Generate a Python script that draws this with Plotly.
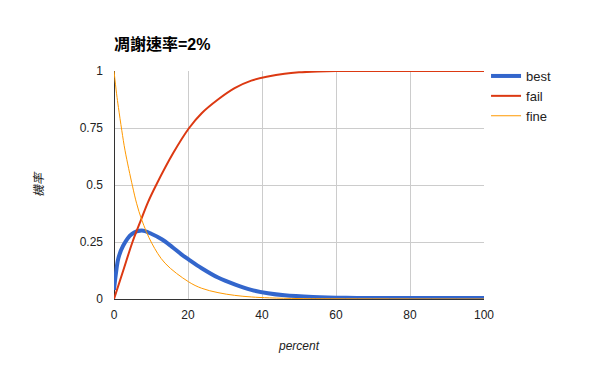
import plotly.graph_objects as go

# ---- data ----
best_x = [0, 0.5, 1.2, 2.5, 4.8, 7.5, 10.2, 12.9, 15.6, 18.3, 20.3, 23.7, 28.1,
          32.6, 37.1, 41.6, 46.1, 53.8, 62.8, 70, 80, 90, 100]
best_y = [0.04, 0.11, 0.18, 0.235, 0.285, 0.3, 0.285, 0.262, 0.23, 0.195, 0.172,
          0.135, 0.094, 0.064, 0.04, 0.025, 0.016, 0.009, 0.005, 0.004,
          0.004, 0.004, 0.004]

fail_x = [0, 2.5, 5, 7.3, 9.2, 11.4, 16, 20.3, 23.7, 28.1, 32.6, 37.1,
          41.6, 46.1, 50, 55, 60, 100]
fail_y = [0, 0.125, 0.25, 0.347, 0.425, 0.5, 0.64, 0.75, 0.815, 0.875,
          0.925, 0.958, 0.976, 0.988, 0.994, 0.998, 1.0, 1.0]

fine_x = [0, 0.7, 1.2, 2.1, 3.0, 5.0, 6.1, 7.5, 10.2, 13.8, 20.1,
          23.7, 28.1, 32.6, 37.1, 42, 50, 60, 100]
fine_y = [1.0, 0.9, 0.84, 0.74, 0.65, 0.495, 0.42, 0.347, 0.245, 0.157,
          0.076, 0.047, 0.028, 0.016, 0.009, 0.005, 0.002, 0.001, 0]

title_text = "凋謝速率=2%"
x_title = "percent"
y_title = "機率"
y_ticks = [0, 0.25, 0.5, 0.75, 1]
y_ticktext = ["0", "0.25", "0.5", "0.75", "1"]
x_ticks = [0, 20, 40, 60, 80, 100]

font_family = "Liberation Sans, Arial, Noto Sans CJK TC, sans-serif"

# page body has an 8px default margin, so the figure is 590x361
W, H = 590, 361
L, T = 106, 63
PW, PH = 370, 228

fig = go.Figure()
fig.add_trace(go.Scatter(x=best_x, y=best_y, name="best", mode="lines",
                         line=dict(color="#3366cc", width=4, shape="spline"),
                         cliponaxis=False))
fig.add_trace(go.Scatter(x=fail_x, y=fail_y, name="fail", mode="lines",
                         line=dict(color="#dc3912", width=2, shape="spline"),
                         cliponaxis=False))
fig.add_trace(go.Scatter(x=fine_x, y=fine_y, name="fine", mode="lines",
                         line=dict(color="#ff9900", width=1, shape="spline"),
                         cliponaxis=False))

fig.update_layout(
    width=W, height=H,
    margin=dict(l=L, r=W - L - PW, t=T, b=H - T - PH, autoexpand=False),
    paper_bgcolor="white", plot_bgcolor="white",
    font=dict(family=font_family, size=12, color="#222222"),
    title=dict(text="<b>" + title_text + "</b>", xref="container", yref="container",
               x=L / W, xanchor="left",
               y=1 - 36 / H, yanchor="middle",
               font=dict(size=16, color="#000000")),
    showlegend=True,
    legend=dict(x=1.0055, xanchor="left", y=1 + 10 / PH, yanchor="top",
                font=dict(size=13, color="#222222"),
                bgcolor="rgba(0,0,0,0)", tracegroupgap=0),
    xaxis=dict(range=[0, 100], tickvals=x_ticks, showgrid=True,
               gridcolor="#cccccc", gridwidth=1, zeroline=True,
               zerolinecolor="#333333", zerolinewidth=1, showline=False,
               ticks="", ticklen=0, ticklabelstandoff=7,
               title=dict(text="<i>" + x_title + "</i>", standoff=20,
                          font=dict(size=12, color="#222222"))),
    yaxis=dict(range=[0, 1], tickvals=y_ticks, ticktext=y_ticktext,
               showgrid=True, gridcolor="#cccccc", gridwidth=1, zeroline=True,
               zerolinecolor="#333333", zerolinewidth=1, showline=False,
               ticks="", ticklen=0, ticklabelstandoff=10,
               title=dict(text="<i>" + y_title + "</i>", standoff=33,
                          font=dict(size=12, color="#222222"))),
)

fig.write_html("out.html")
